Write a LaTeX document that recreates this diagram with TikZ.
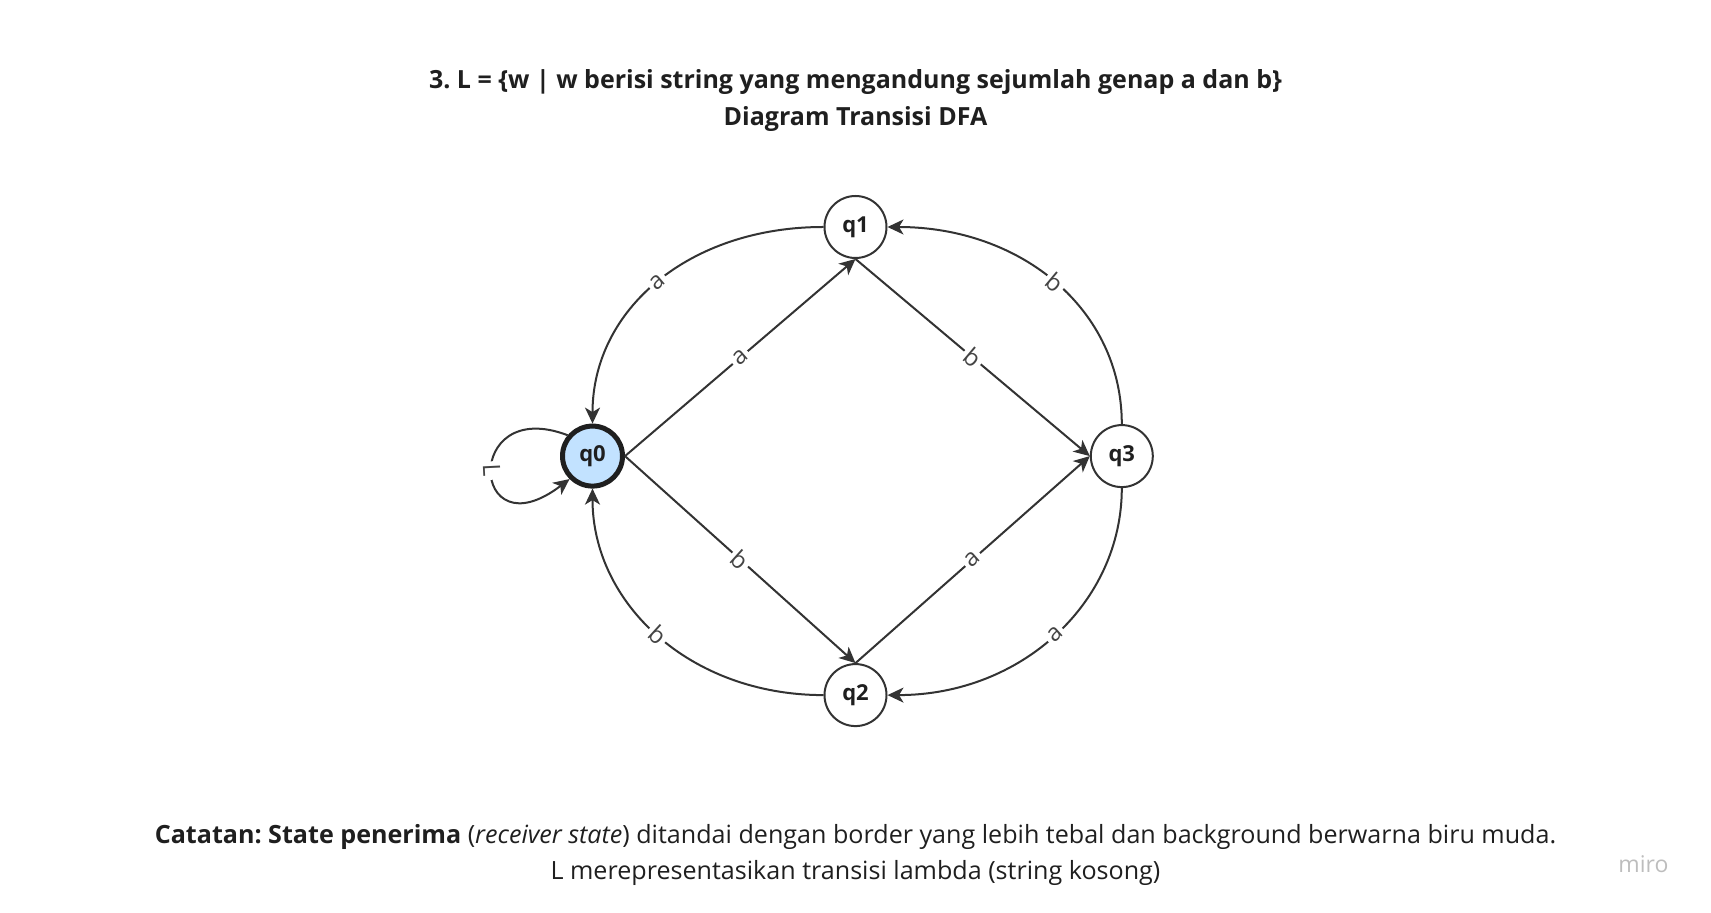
\documentclass[tikz,border=0pt]{standalone}
\usepackage{fontspec}
\setmainfont{Open Sans}
\usetikzlibrary{arrows.meta}
\definecolor{ink}{HTML}{333333}
\definecolor{lbl}{HTML}{444444}
\definecolor{txt}{HTML}{1F1F1F}
\definecolor{acc}{HTML}{C2E2FF}
\definecolor{wm}{HTML}{BDBDBD}
\begin{document}
\frenchspacing
\begin{tikzpicture}[x=1pt,y=1pt,
  state/.style={circle,draw=ink,line width=2pt,minimum size=62pt,inner sep=0pt,
    font=\fontsize{22}{24}\selectfont\bfseries,text=txt},
  accept/.style={state,line width=5pt,minimum size=60pt,fill=acc,draw=txt},
  edge/.style={draw=ink,line width=2pt,-{Stealth[length=16pt,width=15pt,inset=4.5pt]}},
  elabel/.style={fill=white,inner sep=3pt,sloped,font=\fontsize{24}{26}\selectfont,text=lbl},
  ttl/.style={font=\fontsize{25}{28}\selectfont\bfseries,text=txt,inner sep=0pt},
  note/.style={font=\fontsize{25.1}{28}\selectfont,text=txt,inner sep=0pt}]
\useasboundingbox (0,0) rectangle (1711,913);

\node[ttl] (t1) at (855.5,831.3) {3. L = \{w | w berisi string yang mengandung sejumlah genap a dan b\}};
\node[ttl] (t2) at (855.5,794.0) {Diagram Transisi DFA};

\node[accept] (q0) at (592.5,456.9) {q0};
\node[state] (q1) at (855.5,686) {q1};
\node[state] (q2) at (855.5,217.9) {q2};
\node[state] (q3) at (1121.8,456.9) {q3};

% straight transitions
\draw[edge] (q0.east) -- node[elabel]{a} (q1.south);
\draw[edge] (q1.south) -- node[elabel]{b} (q3.west);
\draw[edge] (q0.east) -- node[elabel]{b} (q2.north);
\draw[edge] (q2.north) -- node[elabel]{a} (q3.west);

% curved transitions
\draw[edge] (q1.west) .. controls +(-134,0) and +(0,114.5) .. node[elabel,pos=0.5]{a} (q0.north);
\draw[edge] (q3.north) .. controls +(0,114.5) and +(134,0) .. node[elabel,pos=0.5]{b} (q1.east);
\draw[edge] (q2.west) .. controls +(-134,0) and +(0,-114.5) .. node[elabel,pos=0.5]{b} (q0.south);
\draw[edge] (q3.south) .. controls +(0,-114.5) and +(134,0) .. node[elabel,pos=0.5]{a} (q2.east);

% lambda loop
\draw[edge] (q0.140) .. controls +(-105.6,40.2) and +(-99.5,-75.9) .. node[elabel,pos=0.5]{L} (q0.225);

\node[note] (n1) at (855.5,76.0) {\textbf{Catatan: State penerima} (\textit{receiver state}) ditandai dengan border yang lebih tebal dan background berwarna biru muda.};
\node[note] (n2) at (855.5,40.0) {L merepresentasikan transisi lambda (string kosong)};
\node[font=\fontsize{23}{26}\selectfont,text=wm,inner sep=0pt] (wm) at (1643.4,48.8) {miro};
\end{tikzpicture}
\end{document}
